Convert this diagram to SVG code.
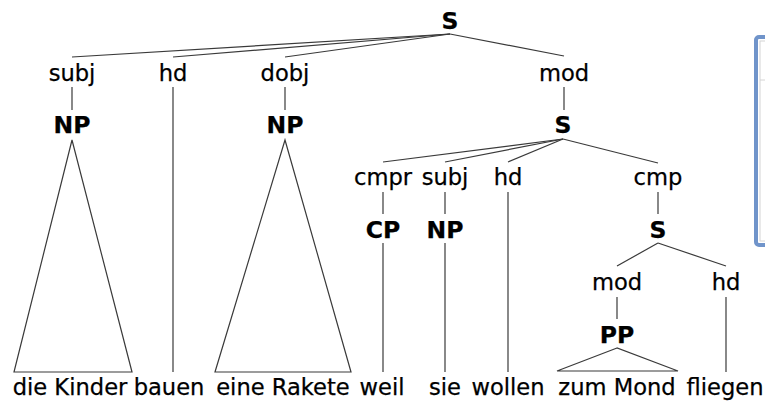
<svg xmlns="http://www.w3.org/2000/svg" width="765" height="402" viewBox="0 0 765 402">
<style>
text{font-family:"DejaVu Sans",Verdana,sans-serif;font-size:22.6px;fill:#000;stroke:#000;stroke-width:0.25;text-anchor:middle}
.c{font-weight:bold;font-size:23.5px}
.e{stroke:#3a3a3a;stroke-width:1.2;fill:none}
</style>
<rect x="0" y="0" width="765" height="402" fill="#fff"/>
<g id="panel">
<rect x="756" y="37" width="30" height="208" rx="3" fill="#fff" stroke="#7094ca" stroke-width="4"/>
<rect x="760" y="41" width="30" height="200" fill="none" stroke="#d4d4d4" stroke-width="1"/>
<line x1="760" y1="80" x2="765" y2="80" stroke="#d4d4d4" stroke-width="1"/>
</g>
<g id="connectors" class="e">
<line x1="450" y1="34" x2="72" y2="57"/>
<line x1="450" y1="34" x2="173" y2="57"/>
<line x1="450" y1="34" x2="285" y2="57"/>
<line x1="450" y1="34" x2="564" y2="56"/>
<line x1="72" y1="87" x2="72" y2="110"/>
<line x1="173" y1="87" x2="173" y2="372"/>
<line x1="285" y1="87" x2="285" y2="110"/>
<line x1="564" y1="87" x2="564" y2="110"/>
<polygon points="72,140 14,372 132,372"/>
<polygon points="285,140 215,372 351,372"/>
<line x1="563" y1="139" x2="383" y2="162"/>
<line x1="563" y1="139" x2="445" y2="162"/>
<line x1="563" y1="139" x2="508" y2="162"/>
<line x1="563" y1="139" x2="658" y2="163"/>
<line x1="383" y1="192" x2="383" y2="214"/>
<line x1="445" y1="192" x2="445" y2="214"/>
<line x1="508" y1="192" x2="508" y2="372"/>
<line x1="658" y1="192" x2="658" y2="214"/>
<line x1="383" y1="243" x2="383" y2="372"/>
<line x1="445" y1="243" x2="445" y2="372"/>
<line x1="658" y1="243" x2="617" y2="266"/>
<line x1="658" y1="243" x2="726" y2="266"/>
<line x1="617" y1="297" x2="617" y2="319"/>
<line x1="726" y1="297" x2="726" y2="372"/>
<polygon points="617,348 557,371 678,371"/>
</g>
<g id="n-S"><text class="c" x="450" y="29">S</text></g>
<g id="n-subj"><text x="72" y="81">subj</text></g>
<g id="n-hd"><text x="173" y="81">hd</text></g>
<g id="n-dobj"><text x="285" y="81">dobj</text></g>
<g id="n-mod"><text x="564" y="81">mod</text></g>
<g id="n-NP1"><text class="c" x="72" y="133">NP</text></g>
<g id="n-NP2"><text class="c" x="285" y="133">NP</text></g>
<g id="n-S2"><text class="c" x="563" y="133">S</text></g>
<g id="n-cmpr"><text x="383" y="185">cmpr</text></g>
<g id="n-subj2"><text x="445" y="185">subj</text></g>
<g id="n-hd2"><text x="508" y="185">hd</text></g>
<g id="n-cmp"><text x="658" y="185">cmp</text></g>
<g id="n-CP"><text class="c" x="383" y="238">CP</text></g>
<g id="n-NP3"><text class="c" x="445" y="238">NP</text></g>
<g id="n-S3"><text class="c" x="658" y="238">S</text></g>
<g id="n-mod2"><text x="617" y="290">mod</text></g>
<g id="n-hd3"><text x="726" y="290">hd</text></g>
<g id="n-PP"><text class="c" x="617" y="343">PP</text></g>
<g id="w-dieKinder"><text x="70" y="395">die Kinder</text></g>
<g id="w-bauen"><text x="169" y="395">bauen</text></g>
<g id="w-eineRakete"><text x="283" y="395">eine Rakete</text></g>
<g id="w-weil"><text x="382" y="395">weil</text></g>
<g id="w-sie"><text x="445" y="395">sie</text></g>
<g id="w-wollen"><text x="508" y="395">wollen</text></g>
<g id="w-zumMond"><text x="617" y="395">zum Mond</text></g>
<g id="w-fliegen"><text x="725" y="395">fliegen</text></g>
</svg>
